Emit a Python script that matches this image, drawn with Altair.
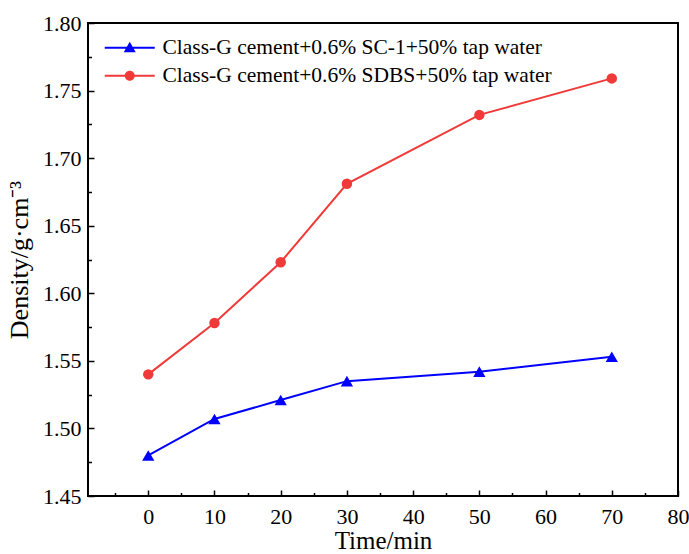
import altair as alt
import pandas as pd

time_min = [0, 10, 20, 30, 50, 70]
sc1_density = [1.480, 1.507, 1.521, 1.535, 1.542, 1.553]
sdbs_density = [1.540, 1.578, 1.623, 1.681, 1.732, 1.759]
series_names = [
    "Class-G cement+0.6% SC-1+50% tap water",
    "Class-G cement+0.6% SDBS+50% tap water",
]
series_colors = ["#0000ff", "#f03a3a"]
x_major = [0, 10, 20, 30, 40, 50, 60, 70, 80]
x_minor = [-5, 5, 15, 25, 35, 45, 55, 65, 75]
y_major = [1.45, 1.50, 1.55, 1.60, 1.65, 1.70, 1.75, 1.80]
y_minor = [1.475, 1.525, 1.575, 1.625, 1.675, 1.725, 1.775]

rows = []
for t, v in zip(time_min, sc1_density):
    rows.append({"time": t, "density": v, "series": series_names[0]})
for t, v in zip(time_min, sdbs_density):
    rows.append({"time": t, "density": v, "series": series_names[1]})
df = pd.DataFrame(rows)

FONT = "Liberation Serif"

xscale = alt.Scale(domain=[-9.1, 80], nice=False, zero=False)
yscale = alt.Scale(domain=[1.45, 1.80], nice=False, zero=False)
cscale = alt.Scale(domain=series_names, range=series_colors)

x_major_axis = alt.Axis(
    orient="bottom", values=x_major, tickSize={"expr": "-6"}, tickWidth=1.5,
    tickColor="black", domain=False, grid=False, labelPadding=16,
    labelFont=FONT, labelFontSize=22, labelColor="black", labelFlush=False,
    title="Time/min", titleFont=FONT, titleFontSize=25, titleFontWeight="normal",
    titleColor="black", titlePadding=1,
)
y_major_axis = alt.Axis(
    orient="left", values=y_major, tickSize={"expr": "-6"}, tickWidth=1.5,
    tickColor="black", domain=False, grid=False, labelPadding=13,
    labelFont=FONT, labelFontSize=22, labelColor="black", format=".2f",
    labelFlush=False,
    title="Density/g·cm⁻³", titleFont=FONT, titleFontSize=26,
    titleFontWeight="normal", titleColor="black", titlePadding=10,
)
x_minor_axis = alt.Axis(
    orient="bottom", values=x_minor, tickSize={"expr": "-3.5"}, tickWidth=1.5,
    tickColor="black", domain=False, grid=False, labels=False, title=None,
)
y_minor_axis = alt.Axis(
    orient="left", values=y_minor, tickSize={"expr": "-3.5"}, tickWidth=1.5,
    tickColor="black", domain=False, grid=False, labels=False, title=None,
)

base = alt.Chart(df)
blue = base.transform_filter(alt.datum.series == series_names[0])
red = base.transform_filter(alt.datum.series == series_names[1])

line_blue = blue.mark_line(strokeWidth=2, color=series_colors[0]).encode(
    x=alt.X("time:Q", scale=xscale, axis=x_minor_axis),
    y=alt.Y("density:Q", scale=yscale, axis=y_minor_axis),
)
line_red = red.mark_line(strokeWidth=2, color=series_colors[1]).encode(
    x=alt.X("time:Q", scale=xscale, axis=None),
    y=alt.Y("density:Q", scale=yscale, axis=None),
)
points_tri = blue.mark_point(
    shape="triangle-up", filled=True, size=150, opacity=1, color=series_colors[0]
).encode(
    x=alt.X("time:Q", scale=xscale, axis=x_major_axis),
    y=alt.Y("density:Q", scale=yscale, axis=y_major_axis),
)
points_circ = red.mark_point(
    shape="circle", filled=True, size=110, opacity=1, color=series_colors[1]
).encode(
    x=alt.X("time:Q", scale=xscale, axis=None),
    y=alt.Y("density:Q", scale=yscale, axis=None),
)

legend_paths = [
    "M-1,-0.1H4V0.1H-1Z M1.5,-0.6L2.1,0.45H0.9Z",
    "M-1,-0.1H4V0.1H-1Z M2,0A0.5,0.5 0 1,1 1,0A0.5,0.5 0 1,1 2,0Z",
]
leg = alt.Legend(
    orient="none", legendX=16, legendY=14, title=None,
    symbolSize=400, symbolOpacity=1, symbolStrokeWidth=0,
    labelFont=FONT, labelFontSize=21.5, labelColor="black",
    labelOffset=37, rowPadding=5, labelLimit=600,
)
legend_layer = base.mark_point(filled=True, opacity=0).encode(
    x=alt.X("time:Q", scale=xscale, axis=None),
    y=alt.Y("density:Q", scale=yscale, axis=None),
    color=alt.Color("series:N", scale=cscale, legend=leg),
    shape=alt.Shape(
        "series:N", scale=alt.Scale(domain=series_names, range=legend_paths),
        legend=leg,
    ),
)

chart = alt.layer(
    line_blue, line_red, points_tri, points_circ, legend_layer
).resolve_axis(
    x="independent", y="independent"
).properties(
    width=590, height=473,
    autosize=alt.AutoSizeParams(type="none"),
    padding={"left": 88, "top": 23, "right": 11, "bottom": 58},
    background="white",
).configure_view(
    stroke="black", strokeWidth=2
)

chart.save("out.html", embed_options={"renderer": "svg", "actions": False})
